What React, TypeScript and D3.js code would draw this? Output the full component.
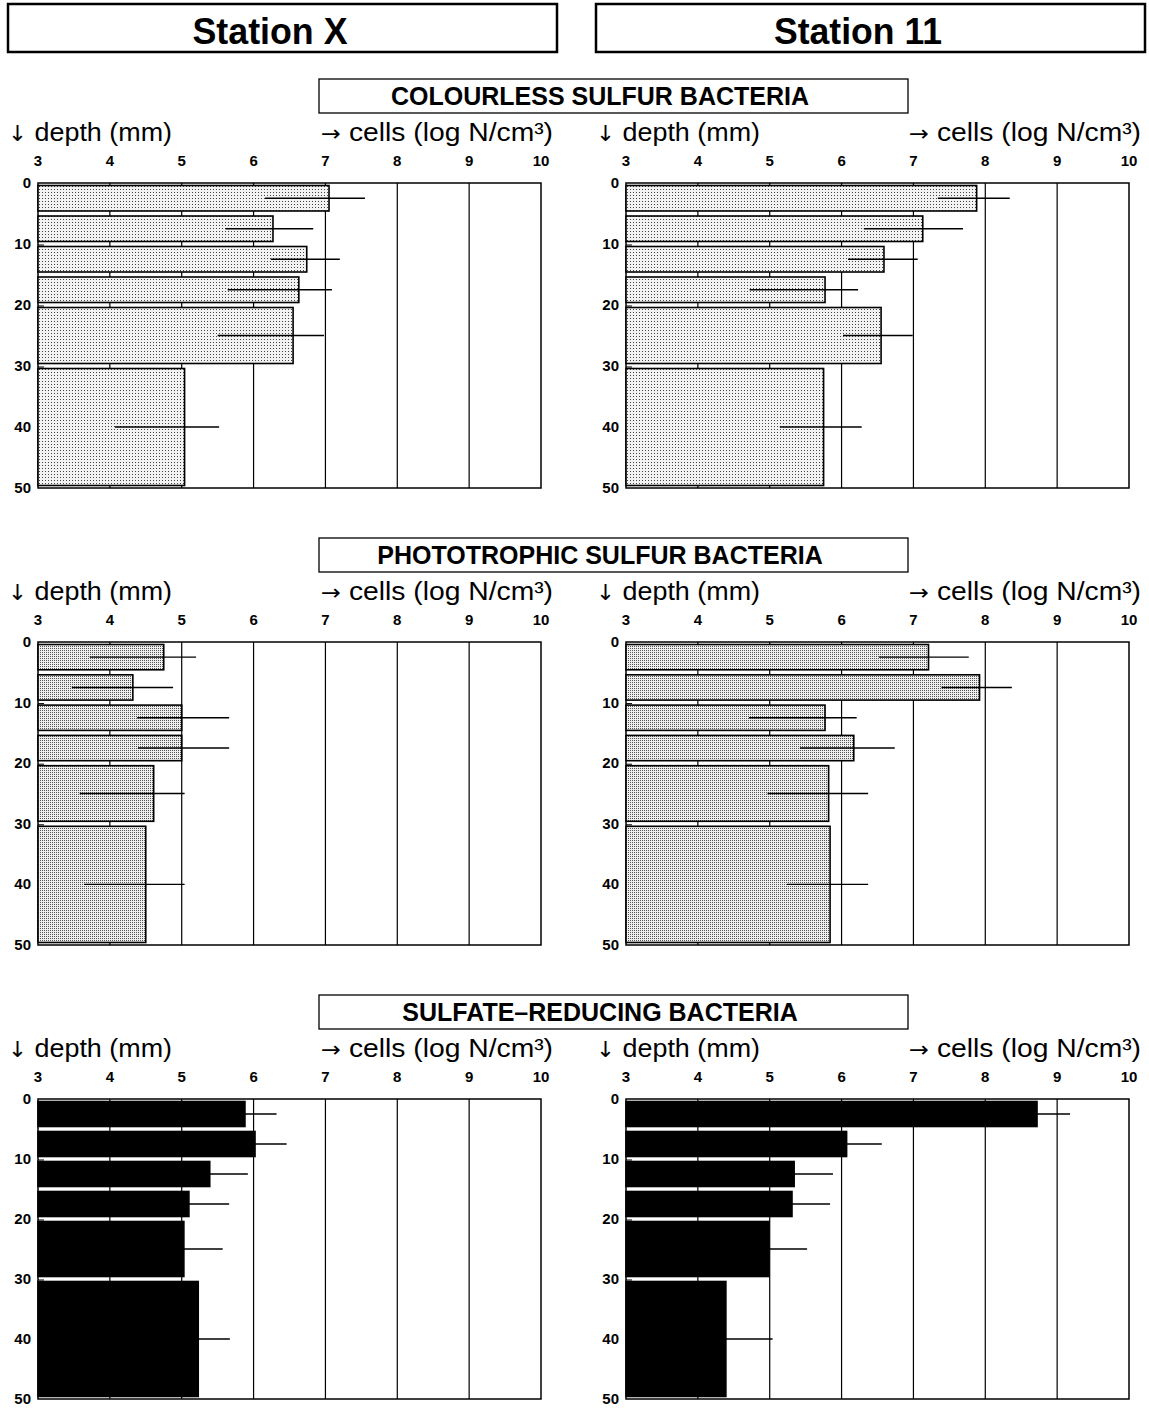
import React from 'react';
import * as d3 from 'd3';

// depth intervals (mm)
const depthTop = [0, 5, 10, 15, 20, 30];
const depthBottom = [5, 10, 15, 20, 30, 50];

const xTicks = [3, 4, 5, 6, 7, 8, 9, 10];
const yTicks = [0, 10, 20, 30, 40, 50];

const stations = ['Station X', 'Station 11'];
const groups = ['COLOURLESS SULFUR BACTERIA', 'PHOTOTROPHIC SULFUR BACTERIA', 'SULFATE\u2013REDUCING BACTERIA'];

// colourless sulfur bacteria (log N/cm3)
const colourlessX = [7.05, 6.27, 6.74, 6.63, 6.55, 5.04];
const colourlessXLow = [6.16, 5.61, 6.24, 5.64, 5.5, 4.07];
const colourlessXHigh = [7.55, 6.83, 7.2, 7.09, 6.98, 5.52];
const colourless11 = [7.88, 7.13, 6.59, 5.77, 6.55, 5.75];
const colourless11Low = [7.34, 6.31, 6.09, 4.72, 6.02, 5.14];
const colourless11High = [8.34, 7.69, 7.06, 6.23, 6.99, 6.28];

// phototrophic sulfur bacteria
const phototrophicX = [4.75, 4.32, 5.0, 5.0, 4.61, 4.5];
const phototrophicXLow = [3.72, 3.47, 4.38, 4.39, 3.58, 3.64];
const phototrophicXHigh = [5.2, 4.88, 5.66, 5.66, 5.04, 5.04];
const phototrophic11 = [7.21, 7.92, 5.77, 6.17, 5.82, 5.84];
const phototrophic11Low = [6.52, 7.39, 4.71, 5.42, 4.97, 5.24];
const phototrophic11High = [7.77, 8.37, 6.21, 6.74, 6.37, 6.37];

// sulfate-reducing bacteria
const sulfateX = [5.88, 6.02, 5.39, 5.1, 5.03, 5.23];
const sulfateXLow = [5.4, 5.5, 4.9, 4.6, 4.5, 4.7];
const sulfateXHigh = [6.32, 6.46, 5.92, 5.66, 5.57, 5.67];
const sulfate11 = [8.72, 6.07, 5.34, 5.31, 4.99, 4.39];
const sulfate11Low = [8.2, 5.6, 4.8, 4.8, 4.5, 3.8];
const sulfate11High = [9.18, 6.56, 5.88, 5.84, 5.52, 5.04];

const panelData = [
  [[colourlessX, colourlessXLow, colourlessXHigh], [colourless11, colourless11Low, colourless11High]],
  [[phototrophicX, phototrophicXLow, phototrophicXHigh], [phototrophic11, phototrophic11Low, phototrophic11High]],
  [[sulfateX, sulfateXLow, sulfateXHigh], [sulfate11, sulfate11Low, sulfate11High]],
];

const fills = ['url(#dotsLight)', 'url(#dotsDark)', '#000'];

const colLeft = [38, 626];
const plotW = 503;
const rowTop = [183, 642, 1099];
const rowH = [305, 303, 300];

const font = '"Liberation Sans", Arial, Helvetica, sans-serif';
const arrowFont = '"DejaVu Sans", sans-serif';

function Panel({ left, top, h, values, low, high, fill }: any) {
  const x = d3.scaleLinear().domain([3, 10]).range([left, left + plotW]);
  const y = d3.scaleLinear().domain([0, 50]).range([top, top + h]);
  return (
    <g>
      <rect x={left} y={top} width={plotW} height={h} fill="#fff" stroke="#000" strokeWidth={1.5} />
      {xTicks.slice(1, -1).map(t => (
        <line key={t} x1={x(t)} x2={x(t)} y1={top} y2={top + h} stroke="#000" strokeWidth={1.2} />
      ))}
      {values.map((v: number, i: number) => {
        const y0 = y(depthTop[i]) + 2.5;
        const y1 = y(depthBottom[i]) - 2.5;
        const ym = y((depthTop[i] + depthBottom[i]) / 2);
        return (
          <g key={i}>
            <rect x={x(3)} y={y0} width={x(v) - x(3)} height={y1 - y0} fill={fill} stroke="#000" strokeWidth={1.6} />
            <line x1={x(low[i])} x2={x(high[i])} y1={ym} y2={ym} stroke="#000" strokeWidth={1.4} />
          </g>
        );
      })}
      {[10, 20, 30].map(t => (
        <line key={t} x1={left} x2={left + 6} y1={y(t) + 1} y2={y(t) + 1} stroke="#000" strokeWidth={1} />
      ))}
      {xTicks.map(t => (
        <text key={t} x={x(t)} y={top - 17} textAnchor="middle" fontSize={15} fontWeight="bold" fontFamily={font}>{t}</text>
      ))}
      {yTicks.map(t => (
        <text key={t} x={left - 7} y={y(t) + 5} textAnchor="end" fontSize={15} fontWeight="bold" fontFamily={font}>{t}</text>
      ))}
      <text x={left - 30} y={top - 42} fontSize={26} fontFamily={font} textLength={164} lengthAdjust="spacingAndGlyphs">
        <tspan fontFamily={arrowFont} fontSize={22}>{'\u2193'}</tspan>{' depth (mm)'}
      </text>
      <text x={left + plotW + 12} y={top - 42} textAnchor="end" fontSize={26} fontFamily={font} textLength={232} lengthAdjust="spacingAndGlyphs">
        <tspan fontFamily={arrowFont} fontSize={22}>{'\u2192'}</tspan>{' cells (log N/cm\u00b3)'}
      </text>
    </g>
  );
}

export default function App() {
  return (
    <svg width={1149} height={1408} style={{ position: 'absolute', left: 0, top: 0, background: '#fff' }}>
      <defs>
        <pattern id="dotsLight" width={3} height={3} patternUnits="userSpaceOnUse">
          <rect width={3} height={3} fill="#f2f2f2" />
          <rect width={1} height={1} fill="#444" />
        </pattern>
        <pattern id="dotsDark" width={2} height={2} patternUnits="userSpaceOnUse">
          <rect width={2} height={2} fill="#eee" />
          <rect width={1} height={1} fill="#555" />
        </pattern>
      </defs>
      {stations.map((s, i) => (
        <g key={s}>
          <rect x={colLeft[i] - 30} y={4} width={549} height={48} fill="none" stroke="#000" strokeWidth={2.5} />
          <text x={colLeft[i] - 30 + 262} y={44} textAnchor="middle" fontSize={36} fontWeight="bold"
            fontFamily={font} textLength={i === 0 ? 155 : 168} lengthAdjust="spacingAndGlyphs">{s}</text>
        </g>
      ))}
      {groups.map((g, r) => (
        <g key={g}>
          <rect x={319} y={rowTop[r] - 104} width={589} height={34} fill="none" stroke="#000" strokeWidth={1.3} />
          <text x={600} y={rowTop[r] - 78} textAnchor="middle" fontSize={25} fontWeight="bold" fontFamily={font}>{g}</text>
        </g>
      ))}
      {panelData.map((row, r) =>
        row.map((d, c) => (
          <Panel key={`${r}-${c}`} left={colLeft[c]} top={rowTop[r]} h={rowH[r]} values={d[0]} low={d[1]} high={d[2]} fill={fills[r]} />
        ))
      )}
    </svg>
  );
}
